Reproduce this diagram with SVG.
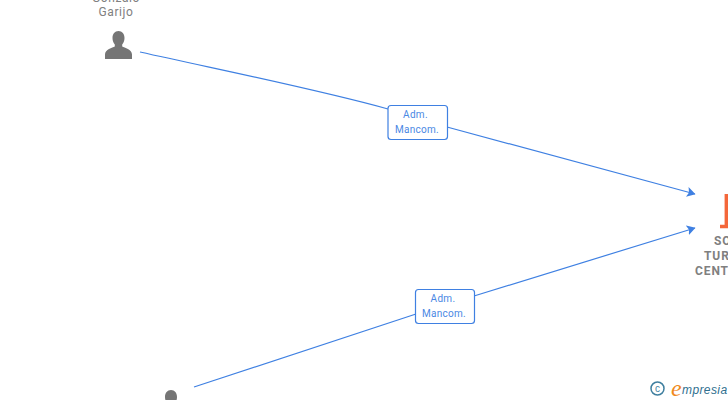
<svg xmlns="http://www.w3.org/2000/svg" width="728" height="400" viewBox="0 0 728 400">
<style>
.conn{fill:none;stroke:#3f80e2;stroke-width:1.2}
.box{fill:#fff;stroke:#3f80e2;stroke-width:1.2}
.lbl{font:10px Roboto,"Liberation Sans",sans-serif;fill:#4a88e4;text-anchor:middle;letter-spacing:.3px}
.name{font:12px Roboto,"Liberation Sans",sans-serif;fill:#808080;text-anchor:middle;letter-spacing:.6px}
.co{font:bold 12px Roboto,"Liberation Sans",sans-serif;fill:#808080;letter-spacing:.9px}
.person{fill:#757575}
</style>
<defs>
<marker id="arrow" markerWidth="9" markerHeight="10" refX="8" refY="5" orient="auto" markerUnits="userSpaceOnUse">
<path d="M0 0L8.500 5L0 10L1.800 5Z" fill="#3f80e2"/>
</marker>
<path id="p" d="M0 0C-3.700 0-6 3-6 7C-6 10-5 12-3.700 13.500L-3.700 15.500C-6 17-13.500 18-13.500 23.500L-13.500 28L13.500 28L13.500 23.500C13.500 18 6 17 3.700 15.500L3.700 13.500C5 12 6 10 6 7C6 3 3.700 0 0 0Z"/>
</defs>
<g id="connectors">
<path class="conn" d="M140 52C230 72 320 90 388 109" />
<path class="conn" d="M447 127L695 194" marker-end="url(#arrow)"/>
<path class="conn" d="M194 387L416 314"/>
<path class="conn" d="M474 296L695 228" marker-end="url(#arrow)"/>
</g>
<g id="node-gonzalo">
<text class="name" x="116" y="2">Gonzalo</text>
<text class="name" x="116" y="16">Garijo</text>
<use href="#p" class="person" x="118.500" y="31"/>
</g>
<g id="node-person-2">
<use href="#p" class="person" x="171" y="390"/>
</g>
<g id="node-company">
<path d="M726.300 194V226.500M720 226.500H728" fill="none" stroke="#f4673a" stroke-width="3.400"/>
<text class="co" x="714" y="245">SO</text>
<text class="co" x="704" y="260">TUR</text>
<text class="co" x="695" y="275">CENT</text>
</g>
<g id="label-1">
<rect class="box" x="388" y="105.500" width="59.500" height="34" rx="3"/>
<text class="lbl" x="415.500" y="118">Adm.</text>
<text class="lbl" x="417" y="133">Mancom.</text>
</g>
<g id="label-2">
<rect class="box" x="415.500" y="289.500" width="59" height="34" rx="3"/>
<text class="lbl" x="443" y="302">Adm.</text>
<text class="lbl" x="444" y="317">Mancom.</text>
</g>
<g id="watermark">
<circle cx="657.500" cy="388.500" r="6.500" fill="none" stroke="#3f7f9f" stroke-width="1.500"/>
<text x="657.500" y="392" font-family="'Liberation Sans',sans-serif" font-size="10" fill="#3f7f9f" text-anchor="middle">c</text>
<text x="671" y="396" font-family="'Liberation Serif',serif" font-style="italic" font-size="24" fill="#f08a1d">e</text>
<text x="682" y="394" font-family="'Liberation Sans',sans-serif" font-style="italic" font-size="12" fill="#2f6f8f" letter-spacing=".4">mpresia</text>
</g>
</svg>
